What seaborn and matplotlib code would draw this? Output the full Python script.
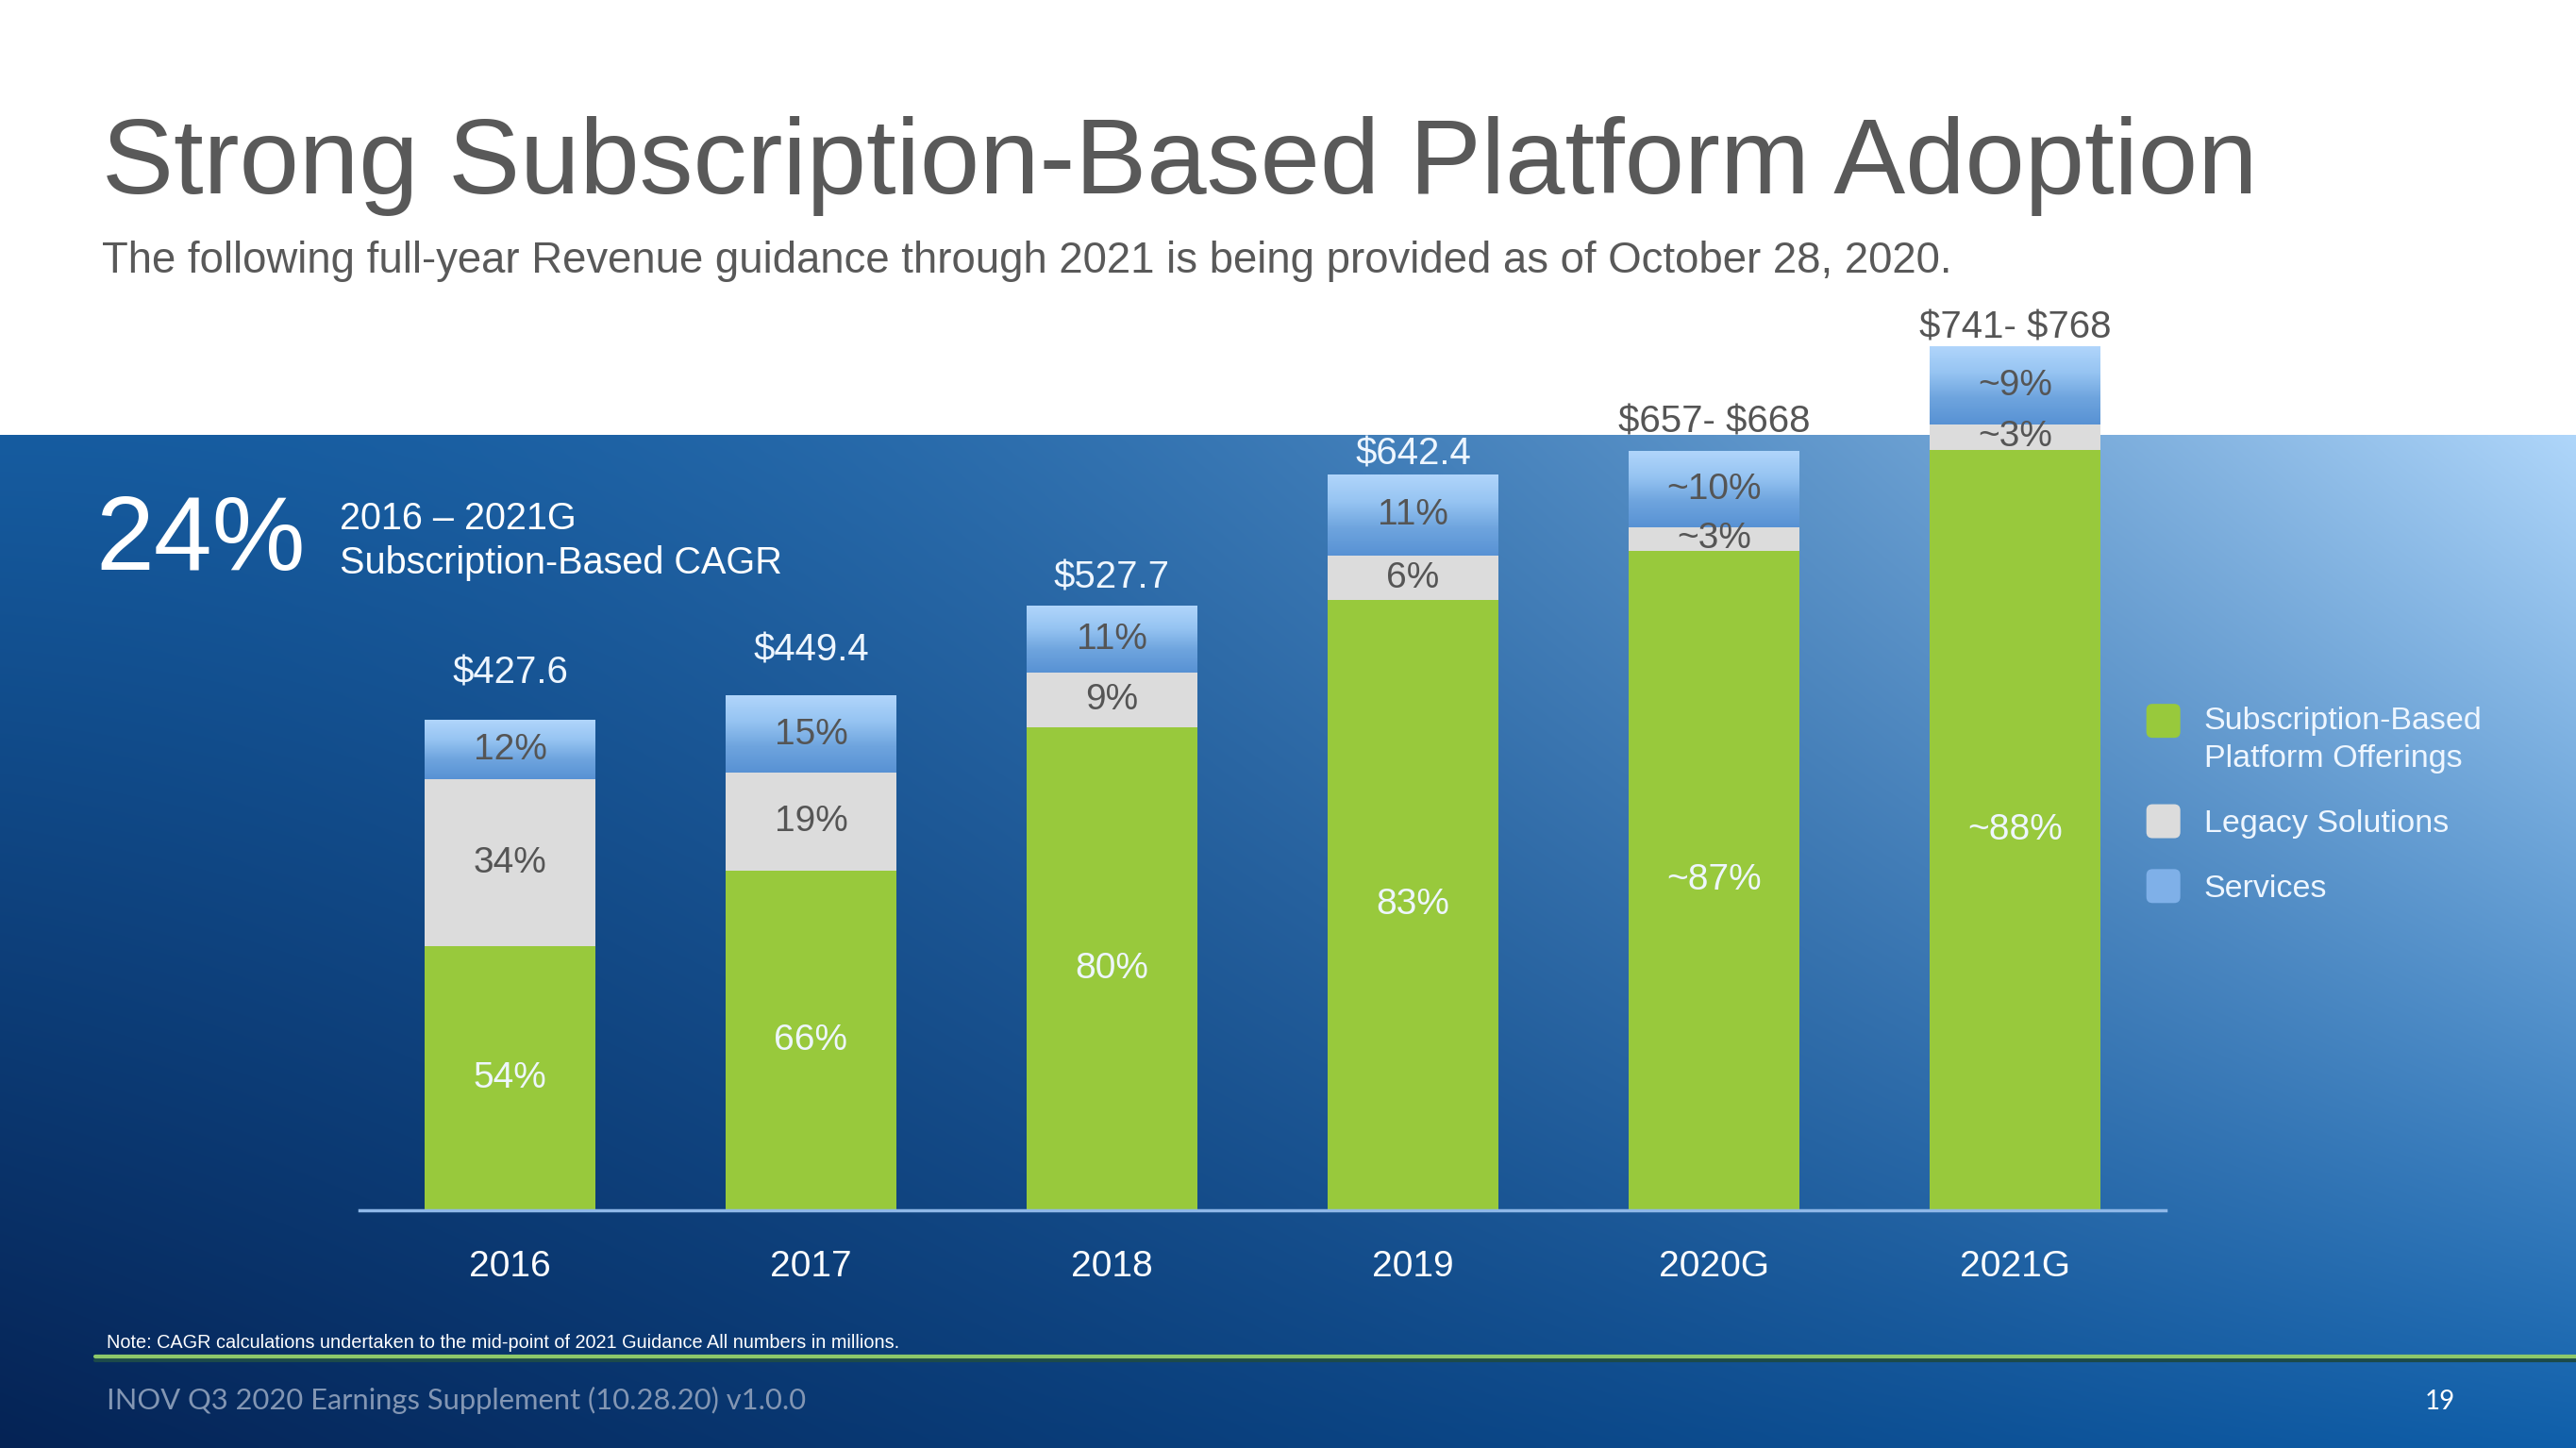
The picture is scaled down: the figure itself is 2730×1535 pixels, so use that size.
import numpy as np
import pandas as pd
import matplotlib
matplotlib.use("Agg")
import matplotlib.pyplot as plt
import seaborn as sns
from matplotlib.patches import FancyBboxPatch
from matplotlib.legend_handler import HandlerPatch
from matplotlib.lines import Line2D

# ---------------- data ----------------
years = ["2016", "2017", "2018", "2019", "2020G", "2021G"]
revenue_low = [427.6, 449.4, 527.7, 642.4, 657.0, 741.0]
revenue_high = [427.6, 449.4, 527.7, 642.4, 668.0, 768.0]
pct_subscription = [54, 66, 80, 83, 87, 88]
pct_legacy = [34, 19, 9, 6, 3, 3]
pct_services = [12, 15, 11, 11, 10, 9]
total_labels = ["$427.6", "$449.4", "$527.7", "$642.4", "$657- $668", "$741- $768"]
subscription_labels = ["54%", "66%", "80%", "83%", "~87%", "~88%"]
legacy_labels = ["34%", "19%", "9%", "6%", "~3%", "~3%"]
services_labels = ["12%", "15%", "11%", "11%", "~10%", "~9%"]
series_names = ["Subscription-Based\nPlatform Offerings", "Legacy Solutions", "Services"]

title = "Strong Subscription-Based Platform Adoption"
subtitle = ("The following full-year Revenue guidance through 2021 is being provided "
            "as of October 28, 2020.")
cagr_value = "24%"
cagr_line1 = "2016 \u2013 2021G"
cagr_line2 = "Subscription-Based CAGR"
note = ("Note: CAGR calculations undertaken to the mid-point of 2021 Guidance "
        "All numbers in millions.")
footer = "INOV Q3 2020 Earnings Supplement (10.28.20) v1.0.0"
page = "19"

# ---------------- table ----------------
df = pd.DataFrame({
    "year": years,
    "low": revenue_low,
    "high": revenue_high,
    "sub": pct_subscription,
    "leg": pct_legacy,
    "svc": pct_services,
})
df["mid"] = (df["low"] + df["high"]) / 2
df["top_all"] = df["mid"] * (df["sub"] + df["leg"] + df["svc"]) / 100
df["top_legacy"] = df["mid"] * (df["sub"] + df["leg"]) / 100
df["top_sub"] = df["mid"] * df["sub"] / 100

# ---------------- style ----------------
sns.set_theme(style="white")
plt.rcParams["font.family"] = ["Liberation Sans", "DejaVu Sans"]

GREEN = "#98c93c"
GRAY = "#dcdcdc"
BLUE = "#7fb0e8"
DARK_TXT = "#555555"
LIGHT_TXT = "#eef6ff"
total_label_offsets_pt = [36.5, 34.5, 21.5, 15.5, 23, 14.5]

W, H = 2730, 1535
fig = plt.figure(figsize=(W / 100, H / 100), dpi=100, facecolor="white")

# background gradient panel
panel_top = 461
bg = fig.add_axes([0, 0, 1, (H - panel_top) / H], zorder=-10)
nx, ny = 600, 300
u = np.linspace(0, 1, nx)[None, :, None]
v = np.linspace(0, 1, ny)[:, None, None]
TL = np.array([22, 92, 160]) / 255
TR = np.array([175, 214, 250]) / 255
BL = np.array([5, 35, 85]) / 255
BR = np.array([15, 95, 170]) / 255
top = TL + (TR - TL) * u ** 2.0
bot = BL + (BR - BL) * u
img = np.clip(top + (bot - top) * v, 0, 1)
bg.imshow(img, aspect="auto", extent=[0, 1, 0, 1], origin="upper", interpolation="bilinear")
bg.set_axis_off()

# main axes
ax_left, ax_right = 381 / W, 2295 / W
ax_bottom = (H - 1283) / H
ymax = 800
ax_h = ymax * 1.2136 / H
ax = fig.add_axes([ax_left, ax_bottom, ax_right - ax_left, ax_h])
ax.set_facecolor("none")

bw = 0.567
bar_kw = dict(saturation=1, width=bw, ax=ax, linewidth=0, edgecolor="none")
sns.barplot(data=df, x="year", y="top_all", color=BLUE, **bar_kw)
sns.barplot(data=df, x="year", y="top_legacy", color=GRAY, **bar_kw)
sns.barplot(data=df, x="year", y="top_sub", color=GREEN, **bar_kw)

svc_bars, leg_bars, sub_bars = ax.containers[0], ax.containers[1], ax.containers[2]

# gradient fill for services segment
grad_cols = np.array([[176, 213, 251], [150, 196, 242], [110, 164, 222], [88, 146, 212]]) / 255
grad = np.stack([np.interp(np.linspace(0, 1, 64), np.linspace(0, 1, 4), grad_cols[:, k])
                 for k in range(3)], axis=-1)[:, None, :]
for ps, pl in zip(svc_bars, leg_bars):
    x0, w = ps.get_x(), ps.get_width()
    ax.imshow(grad, extent=[x0, x0 + w, pl.get_height(), ps.get_height()],
              aspect="auto", origin="upper", zorder=ps.get_zorder() + 0.05,
              interpolation="bilinear")

# segment labels
for i, (ps, pl, pg) in enumerate(zip(svc_bars, leg_bars, sub_bars)):
    xc = ps.get_x() + ps.get_width() / 2
    ax.text(xc, (pl.get_height() + ps.get_height()) / 2, services_labels[i],
            ha="center", va="center", fontsize=28, color=DARK_TXT, zorder=5)
    ax.text(xc, (pg.get_height() + pl.get_height()) / 2, legacy_labels[i],
            ha="center", va="center", fontsize=28, color=DARK_TXT, zorder=5)
    ax.text(xc, pg.get_height() / 2, subscription_labels[i],
            ha="center", va="center", fontsize=28, color=LIGHT_TXT, zorder=5)
    guidance = years[i].endswith("G")
    ax.annotate(total_labels[i], (xc, ps.get_height()),
                xytext=(0, total_label_offsets_pt[i]),
                textcoords="offset points", ha="center", va="center",
                fontsize=29, color=DARK_TXT if guidance else LIGHT_TXT, zorder=5,
                parse_math=False)

ax.set_xlim(-0.5, 5.5)
ax.set_ylim(0, ymax)
ax.set_xlabel("")
ax.set_ylabel("")
ax.set_yticks([])
ax.tick_params(axis="x", length=0, pad=30, labelsize=28, labelcolor="white")
for s in ["top", "left", "right"]:
    ax.spines[s].set_visible(False)
ax.spines["bottom"].set_color("#8fb8e8")
ax.spines["bottom"].set_linewidth(2.5)
ax.grid(False)


# legend with rounded squares
class RoundSquare(HandlerPatch):
    def __init__(self, dy=0.0, **kw):
        super().__init__(**kw)
        self.dy = dy

    def create_artists(self, legend, orig_handle, xdescent, ydescent, width, height, fontsize, trans):
        s = min(width, height)
        p = FancyBboxPatch((-xdescent, -ydescent + (height - s) / 2 + self.dy), s, s,
                           boxstyle=f"round,pad=0,rounding_size={s * 0.18}",
                           fc=orig_handle.get_facecolor(), ec="none", transform=trans)
        return [p]


handles = [sub_bars[0], leg_bars[0], svc_bars[0]]
hmap = {h: RoundSquare(dy=(15.0 if "\n" in name else 0.0)) for h, name in zip(handles, series_names)}
leg = fig.legend(handles, series_names, loc="upper left", bbox_to_anchor=(0.822, 1 - 718 / H),
                 frameon=False, fontsize=24.5, labelcolor=LIGHT_TXT, handlelength=1.25,
                 handleheight=1.25, handletextpad=0.55, labelspacing=0.95,
                 handler_map=hmap)
for t in leg.get_texts():
    t.set_linespacing(1.4)

# texts
fig.text(108 / W, 1 - 205 / H, title, fontsize=82, color="#595959", va="baseline", ha="left")
fig.text(108 / W, 1 - 289 / H, subtitle, fontsize=32.8, color="#595959", va="baseline", ha="left")
fig.text(101 / W, 1 - 604 / H, cagr_value, fontsize=80, color="white", va="baseline", ha="left")
fig.text(360 / W, 1 - 561 / H, cagr_line1, fontsize=28.5, color="white", va="baseline", ha="left")
fig.text(360 / W, 1 - 608 / H, cagr_line2, fontsize=28.5, color="white", va="baseline", ha="left")
fig.text(113 / W, 1 - 1429 / H, note, fontsize=14.3, color="white", va="baseline", ha="left")
fig.text(113 / W, 1 - 1494 / H, footer, fontsize=22.2, color="#8396b3", va="baseline", ha="left",
         family=["Lato", "DejaVu Sans"])
fig.text(2570 / W, 1 - 1494 / H, page, fontsize=20, color="white", va="baseline", ha="left",
         family=["Lato", "DejaVu Sans"])

# footer rule
fig.add_artist(Line2D([101 / W, 1], [1 - 1442 / H] * 2, transform=fig.transFigure,
                      color="#1c4a4a", lw=3))
fig.add_artist(Line2D([101 / W, 1], [1 - 1438 / H] * 2, transform=fig.transFigure,
                      color="#8dc86a", lw=3))

fig.savefig("out.png", dpi=100, facecolor="white")
